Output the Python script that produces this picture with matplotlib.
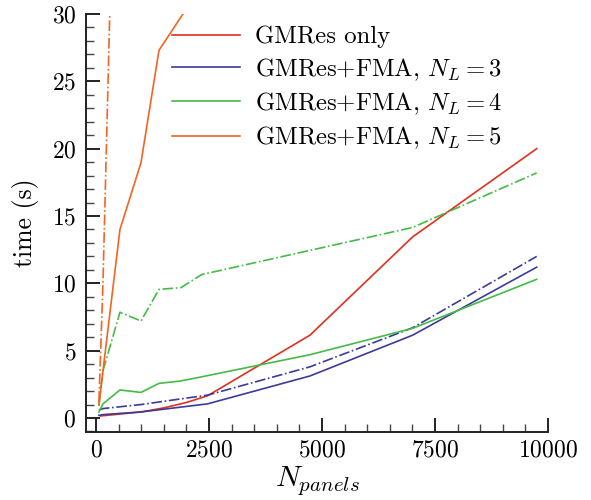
import matplotlib
matplotlib.use("Agg")
import matplotlib.pyplot as plt
from matplotlib.ticker import MultipleLocator

plt.rcParams['font.family'] = ['cmr10', 'DejaVu Serif']
plt.rcParams['mathtext.fontset'] = 'cm'
plt.rcParams['axes.formatter.use_mathtext'] = True
plt.rcParams['axes.unicode_minus'] = False

# ---- data ----
x_gmres = [100, 1000, 1500, 2000, 2470, 4734, 7006, 9750]
y_gmres = [0.15, 0.45, 0.75, 1.15, 1.65, 6.15, 13.45, 20.0]

x_fma3 = [66, 155, 1000, 2470, 4734, 7006, 9750]
y_fma3_solid = [0.2, 0.25, 0.45, 1.05, 3.12, 6.15, 11.2]
y_fma3_dash = [0.6, 0.7, 1.0, 1.7, 3.8, 6.7, 12.0]

x_fma4 = [66, 155, 531, 996, 1394, 1880, 2400, 4734, 7006, 9750]
y_fma4_solid = [0.45, 1.05, 2.08, 1.9, 2.57, 2.75, 3.1, 4.7, 6.66, 10.3]
x_fma4_dash = [66, 155, 531, 996, 1394, 1880, 2338, 7006, 9750]
y_fma4_dash = [0.9, 3.5, 7.85, 7.2, 9.55, 9.68, 10.65, 14.15, 18.2]

x_fma5_solid = [66, 531, 996, 1394, 2338]
y_fma5_solid = [1.0, 14.0, 18.95, 27.3, 32.1]
x_fma5_dash = [66, 155, 531]
y_fma5_dash = [1.2, 10.0, 60.0]

labels = ['GMRes only', r'GMRes+FMA, $N_L = 3$', r'GMRes+FMA, $N_L = 4$', r'GMRes+FMA, $N_L = 5$']
colors = ['#e0301e', '#3b3b9b', '#44bb44', '#f26522']

fs = 17.0
fig = plt.figure(figsize=(5.91, 5.0), dpi=100)
ax = fig.add_axes([86/591, 1-432/500, (548-86)/591, (432-14)/500])

lw = 1.2
ax.plot(x_gmres, y_gmres, color=colors[0], lw=lw, label=labels[0])
ax.plot(x_fma3, y_fma3_solid, color=colors[1], lw=lw, label=labels[1])
ax.plot(x_fma3, y_fma3_dash, color=colors[1], lw=lw, ls='-.')
ax.plot(x_fma4, y_fma4_solid, color=colors[2], lw=lw, label=labels[2])
ax.plot(x_fma4_dash, y_fma4_dash, color=colors[2], lw=lw, ls='-.')
ax.plot(x_fma5_solid, y_fma5_solid, color=colors[3], lw=lw, label=labels[3])
ax.plot(x_fma5_dash, y_fma5_dash, color=colors[3], lw=lw, ls='-.')

ax.set_xlim(-220, 10000)
ax.set_ylim(-1.04, 30)

for s in ['top', 'right']:
    ax.spines[s].set_visible(False)
for s in ['left', 'bottom']:
    ax.spines[s].set_linewidth(1.4)
    ax.spines[s].set_color('#222222')

ax.xaxis.set_major_locator(MultipleLocator(2500))
ax.xaxis.set_minor_locator(MultipleLocator(500))
ax.yaxis.set_major_locator(MultipleLocator(5))
ax.yaxis.set_minor_locator(MultipleLocator(1))
ax.tick_params(which='major', direction='in', length=10, width=1.4, color='#222222',
               labelsize=fs, top=False, right=False)
ax.tick_params(which='minor', direction='in', length=6, width=1.0, color='#444444',
               top=False, right=False)
ax.tick_params(axis='x', which='major', pad=5)
ax.tick_params(axis='y', which='major', pad=7)

ax.set_xlabel(r'$N_{panels}$', fontsize=21.5, labelpad=2)
ax.set_ylabel('time (s)', fontsize=18.5, labelpad=9)

leg = ax.legend(loc='upper left', bbox_to_anchor=(172/591, 1-26/500), bbox_transform=fig.transFigure,
                frameon=False, fontsize=fs + 0.8, handlelength=2.75, handletextpad=0.6,
                labelspacing=0.31, borderaxespad=0, borderpad=0)

fig.savefig('out.png', dpi=100)
